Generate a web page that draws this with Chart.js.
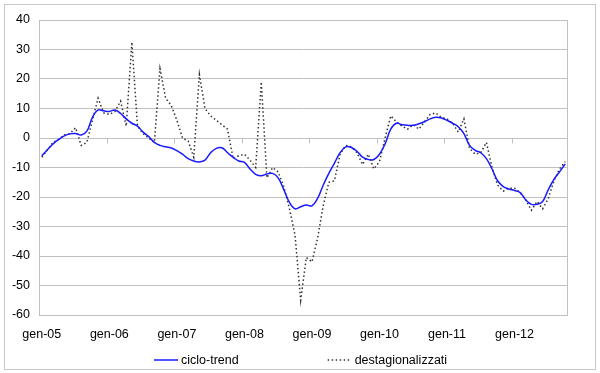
<!DOCTYPE html>
<html>
<head>
<meta charset="utf-8">
<script src="https://cdn.jsdelivr.net/npm/chart.js@4"></script>
<style>
  html, body { margin: 0; padding: 0; background: #fff; }
  #wrap { width: 600px; height: 373px; }
</style>
</head>
<body>
<div id="wrap"><canvas id="chart"></canvas></div>
<script>
// mesi e anni delle etichette (gen-05 ... ott-12)
const mesi = ['gen', 'feb', 'mar', 'apr', 'mag', 'giu', 'lug', 'ago', 'set', 'ott', 'nov', 'dic'];
const anni = ['05', '06', '07', '08', '09', '10', '11', '12'];
const nMesi = 94;

const categorie = [];
anni.forEach(a => mesi.forEach(m => { if (categorie.length < nMesi) categorie.push(m + '-' + a); }));

// valori
const cicloTrend = [
    -6, -4, -2, -0.5, 0.7, 1.4, 1.5, 1.0, 2.3, 7, 9.5, 9.2,
    9, 9.5, 8.3, 6.5, 5, 4, 2, 0.5, -1.5, -2.5, -3, -3.4,
    -4.3, -5.5, -7, -7.8, -8.1, -7.5, -5, -3.5, -3.3, -5, -6.6, -7.8,
    -8.3, -10.5, -12.3, -12.8, -12.2, -12, -13.5, -17.5, -21.8, -24, -23.3, -22.7,
    -23, -20.5, -16, -12, -8.5, -5, -3, -3.2, -4.5, -6.5, -7.3, -7.3,
    -5.5, -2, 3, 5, 4.5, 4.3, 4.3, 4.8, 5.5, 6.5, 7, 6.8,
    6, 5, 3.8, 1.5, -2.5, -4.2, -5, -7, -10.5, -14.5, -16.5, -17.3,
    -17.8, -18.5, -21, -22.5, -22.5, -21.5, -17.5, -14, -11.5, -8.8
];
const destagionalizzati = [
    -6.5, -4, -1.5, -0.5, 1, 1.5, 3.5, -2.5, -1.5, 6, 13.5, 8.5,
    8, 9, 12.5, 4, 32.5, 4, 1.5, 0, -1.5, 23.5, 13.5, 11,
    6, 0, -1, -6.5, 21.5, 10, 7.5, 6, 4.5, 3, -7, -6,
    -5.5, -7.5, -10, 19, -13.5, -10, -11.5, -16.5, -24, -33, -55, -40.5,
    -42, -34, -23, -15, -14.5, -5.5, -2.5, -3, -5, -9, -5.5, -10.5,
    -8, 0, 7.5, 5.5, 4, 3, 4.5, 3, 5.5, 8, 8.5, 7,
    6.5, 5, 2, 6.5, -3.5, -5.5, -5, -1.5, -10, -16, -18, -17,
    -17, -18.5, -21, -24.5, -21.5, -24, -20.5, -14.5, -10.5, -8
];

const FONT = { family: '"Liberation Sans", Arial, sans-serif', size: 12.5 };
const GRIGIO = '#c0c0c0';

// cornice esterna
const cornice = {
    id: 'cornice',
    beforeDraw(chart) {
        const { ctx } = chart;
        ctx.save();
        ctx.fillStyle = '#fff';
        ctx.fillRect(0, 0, chart.width, chart.height);
        ctx.strokeStyle = '#c8c8c8';
        ctx.lineWidth = 1;
        ctx.strokeRect(4.5, 4.5, 591, 365);
        ctx.restore();
    }
};

// bordo area del grafico + tacche sull'asse dello zero
const tacche = {
    id: 'tacche',
    beforeDatasetsDraw(chart) {
        const { ctx, chartArea: a, scales: { x, y } } = chart;
        ctx.save();
        ctx.strokeStyle = GRIGIO;
        ctx.lineWidth = 1;
        ctx.strokeRect(Math.round(a.left) + 0.5, Math.round(a.top) + 0.5, Math.round(a.width) - 1, Math.round(a.height));
        const y0 = Math.round(y.getPixelForValue(0)) + 0.5;
        for (let i = 12; i < categorie.length; i += 12) {
            const xb = Math.round((x.getPixelForValue(i - 1) + x.getPixelForValue(i)) / 2) + 0.5;
            ctx.beginPath();
            ctx.moveTo(xb, y0);
            ctx.lineTo(xb, y0 + 5);
            ctx.stroke();
        }
        ctx.restore();
    }
};

// legenda in basso, voci distanziate come nell'originale
const legenda = {
    id: 'legenda',
    afterDraw(chart) {
        const { ctx } = chart;
        const yl = 360, campione = 24, spazio = 3, gap = 89;
        ctx.save();
        ctx.font = FONT.size + 'px ' + FONT.family;
        const voci = chart.data.datasets.map(ds => ({ ds, w: campione + spazio + ctx.measureText(ds.label).width }));
        const tot = voci.reduce((s, v) => s + v.w, 0) + gap * (voci.length - 1);
        let xl = Math.round(chart.width / 2 - tot / 2) + 1;
        voci.forEach(({ ds, w }) => {
            ctx.strokeStyle = ds.borderColor;
            ctx.lineWidth = ds.borderWidth;
            ctx.setLineDash(ds.borderDash || []);
            ctx.beginPath();
            ctx.moveTo(xl, yl);
            ctx.lineTo(xl + campione, yl);
            ctx.stroke();
            ctx.setLineDash([]);
            ctx.fillStyle = '#000';
            ctx.textBaseline = 'middle';
            ctx.fillText(ds.label, xl + campione + spazio, yl + 1);
            xl += w + gap;
        });
        ctx.restore();
    }
};

new Chart(document.getElementById('chart'), {
    type: 'line',
    data: {
        labels: categorie,
        datasets: [
            {
                label: 'ciclo-trend',
                data: cicloTrend,
                borderColor: '#1a1aff',
                borderWidth: 1.5,
                pointRadius: 0,
                tension: 0.4,
                fill: false
            },
            {
                label: 'destagionalizzati',
                data: destagionalizzati,
                borderColor: '#333333',
                borderWidth: 1.5,
                borderDash: [1.5, 2.5],
                pointRadius: 0,
                tension: 0,
                fill: false
            }
        ]
    },
    options: {
        responsive: true,
        maintainAspectRatio: false,
        animation: false,
        devicePixelRatio: 1,
        layout: { padding: { left: 4, top: 20, right: 32, bottom: 28 } },
        plugins: {
            legend: { display: false },
            tooltip: { enabled: false }
        },
        scales: {
            x: {
                type: 'category',
                offset: true,
                grid: { display: false, drawTicks: false },
                border: { display: false },
                ticks: {
                    autoSkip: false,
                    maxRotation: 0,
                    minRotation: 0,
                    padding: 12,
                    color: '#000',
                    font: FONT,
                    callback: function (v, i) { return i % 12 === 0 ? this.getLabelForValue(v) : ''; }
                },
                afterFit: s => { s.height = 30; }
            },
            y: {
                min: -60,
                max: 40,
                ticks: { stepSize: 10, padding: 9, color: '#000', font: FONT },
                grid: { color: GRIGIO, drawTicks: false },
                border: { display: false },
                afterFit: s => { s.width = 35; }
            }
        }
    },
    plugins: [cornice, tacche, legenda]
});
</script>
</body>
</html>
